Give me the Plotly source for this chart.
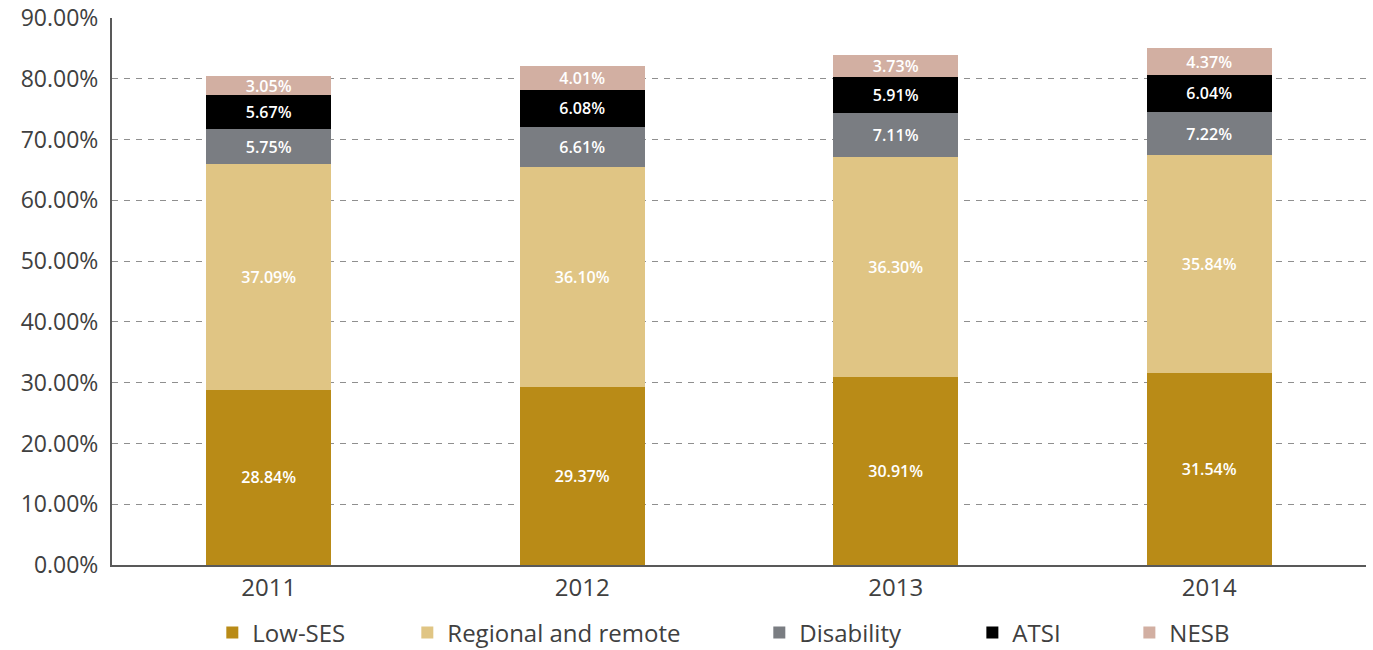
import plotly.graph_objects as go

years = ["2011", "2012", "2013", "2014"]
low_ses = [28.84, 29.37, 30.91, 31.54]
regional = [37.09, 36.10, 36.30, 35.84]
disability = [5.75, 6.61, 7.11, 7.22]
atsi = [5.67, 6.08, 5.91, 6.04]
nesb = [3.05, 4.01, 3.73, 4.37]

series = [
    ("Low-SES", low_ses, "#B98B17"),
    ("Regional and remote", regional, "#E0C584"),
    ("Disability", disability, "#7A7D82"),
    ("ATSI", atsi, "#000000"),
    ("NESB", nesb, "#D2AFA2"),
]
legend_x = [0.0800, 0.2355, 0.5162, 0.6861, 0.8113]
legend_names = ["legend", "legend2", "legend3", "legend4", "legend5"]

FONT = "Open Sans, DejaVu Sans, sans-serif"
fig = go.Figure()
for (name, vals, color), lg in zip(series, legend_names):
    fig.add_trace(go.Bar(
        x=years, y=vals, name=name, legend=lg, showlegend=True,
        marker=dict(color=color, line=dict(width=0)),
        text=[f"{v:.2f}%" for v in vals],
        textposition="inside", insidetextanchor="middle", textangle=0,
        constraintext="none",
        textfont=dict(color="white", size=16, family=FONT, weight=600),
        hoverinfo="skip",
    ))

layout_legends = {}
for lg, lx in zip(legend_names, legend_x):
    layout_legends[lg] = dict(
        x=lx, xanchor="left", y=-0.124, yanchor="middle", orientation="h",
        font=dict(size=24, color="#404040", family=FONT),
        bgcolor="rgba(0,0,0,0)",
    )

fig.update_layout(
    barmode="stack",
    bargap=0.6,
    width=1373, height=650,
    margin=dict(l=112, r=7, t=18, b=85, autoexpand=False),
    plot_bgcolor="white", paper_bgcolor="white",
    showlegend=True,
    font=dict(family=FONT, color="#404040"),
    xaxis=dict(
        showline=True, linecolor="#595959", linewidth=2,
        tickfont=dict(size=24, color="#404040"), ticks="",
        showgrid=False, automargin=False,
    ),
    yaxis=dict(
        range=[0, 90], dtick=10, tickformat=".2f", ticksuffix="%",
        showline=True, linecolor="#595959", linewidth=2,
        showgrid=True, gridcolor="#8f8f8f", griddash="6px,6px", gridwidth=1,
        tickfont=dict(size=23, color="#404040"), ticks="",
        ticklabelstandoff=7, zeroline=False, automargin=False,
    ),
    **layout_legends,
)

fig.write_html(
    "out.html",
    config={"displayModeBar": False},
    post_script="document.body.style.margin='0';document.body.style.overflow='hidden';",
)
